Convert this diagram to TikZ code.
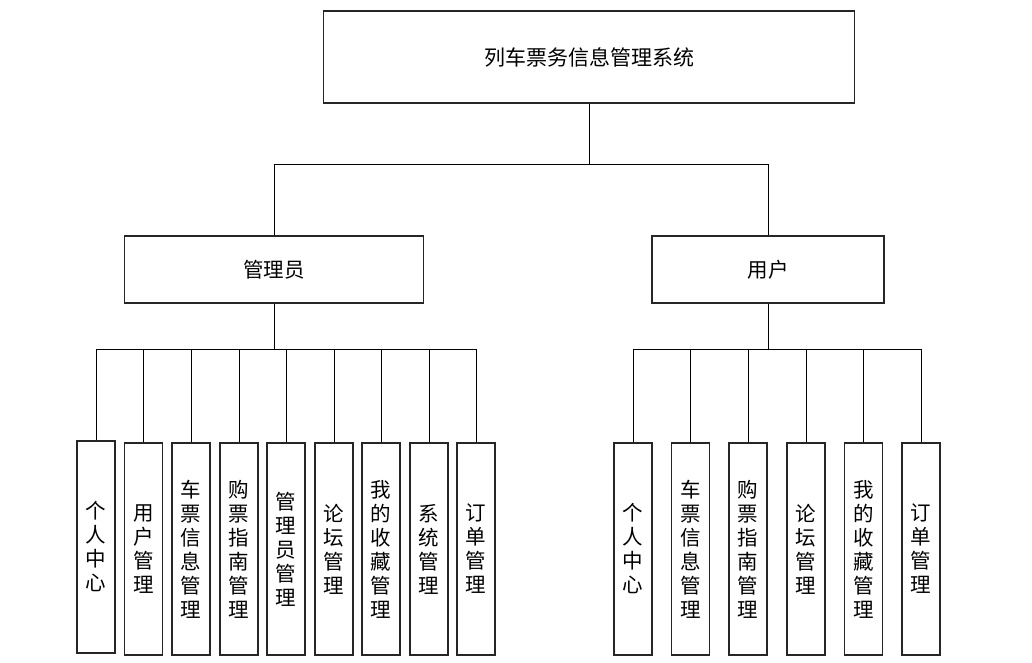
\documentclass[tikz,border=0pt]{standalone}
\usepackage{fontspec}
\setmainfont{Noto Sans CJK SC}
\usepackage{tikz}
\usetikzlibrary{positioning}
\tikzset{
  sysbox/.style={draw=black!85, line width=1.1pt, minimum width=531pt, minimum height=92pt, inner sep=0pt, font=\fontsize{21}{24}\selectfont},
  rolebox/.style={draw=black!85, line width=1.1pt, minimum height=67pt, inner sep=0pt, font=\fontsize{20.5}{24}\selectfont},
  leafbox/.style={draw=black!85, line width=1.1pt, align=center, minimum width=38pt, minimum height=212pt, inner sep=0pt, font=\fontsize{20.5}{24}\selectfont},
  link/.style={draw=black, line width=0.9pt}
}
\begin{document}
\begin{tikzpicture}[x=1pt,y=-1pt]
\useasboundingbox (0,0) rectangle (1032,663);
\node[sysbox] (sys) at (589,57) {列车票务信息管理系统};
\node[rolebox, minimum width=299pt] (admin) at (274,269.5) {管理员};
\node[rolebox, minimum width=232pt] (user) at (768,269.5) {用户};
% admin modules
\node[leafbox] (a1) at (96,547) {个\\人\\中\\心};
\node[leafbox] (a2) at (143.5,549) {用\\户\\管\\理};
\node[leafbox] (a3) at (191,549) {车\\票\\信\\息\\管\\理};
\node[leafbox] (a4) at (239,549) {购\\票\\指\\南\\管\\理};
\node[leafbox] (a5) at (286,549) {管\\理\\员\\管\\理};
\node[leafbox] (a6) at (334,549) {论\\坛\\管\\理};
\node[leafbox] (a7) at (381,549) {我\\的\\收\\藏\\管\\理};
\node[leafbox] (a8) at (429,549) {系\\统\\管\\理};
\node[leafbox] (a9) at (476,549) {订\\单\\管\\理};
% user modules
\node[leafbox] (u1) at (633,549) {个\\人\\中\\心};
\node[leafbox] (u2) at (690.5,549) {车\\票\\信\\息\\管\\理};
\node[leafbox] (u3) at (748,549) {购\\票\\指\\南\\管\\理};
\node[leafbox] (u4) at (806,549) {论\\坛\\管\\理};
\node[leafbox] (u5) at (863.5,549) {我\\的\\收\\藏\\管\\理};
\node[leafbox] (u6) at (921,549) {订\\单\\管\\理};
% connectors
\coordinate (top) at (589,164);
\coordinate (abar) at (274,349);
\coordinate (ubar) at (768,349);
\draw[link] (sys.south) -- (top);
\draw[link] (top) -| (admin.north);
\draw[link] (top) -| (user.north);
\draw[link] (admin.south) -- (abar);
\draw[link] (user.south) -- (ubar);
\draw[link] (abar) -| (a1.north);
\draw[link] (abar) -| (a2.north);
\draw[link] (abar) -| (a3.north);
\draw[link] (abar) -| (a4.north);
\draw[link] (abar) -| (a5.north);
\draw[link] (abar) -| (a6.north);
\draw[link] (abar) -| (a7.north);
\draw[link] (abar) -| (a8.north);
\draw[link] (abar) -| (a9.north);
\draw[link] (ubar) -| (u1.north);
\draw[link] (ubar) -| (u2.north);
\draw[link] (ubar) -| (u3.north);
\draw[link] (ubar) -| (u4.north);
\draw[link] (ubar) -| (u5.north);
\draw[link] (ubar) -| (u6.north);
\end{tikzpicture}
\end{document}
